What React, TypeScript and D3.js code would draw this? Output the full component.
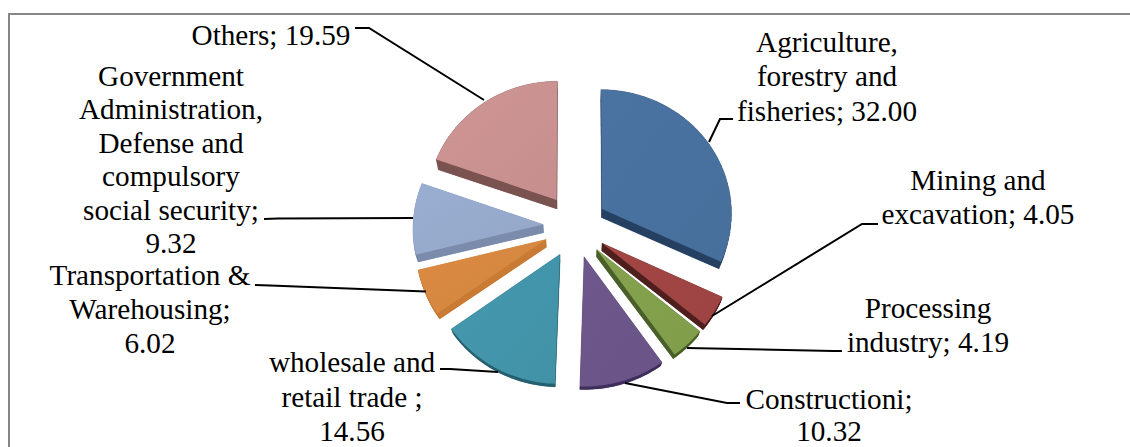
import React from "react";
import * as d3 from "d3";

const categories = [
  "Agriculture, forestry and fisheries",
  "Mining and excavation",
  "Processing industry",
  "Constructioni",
  "wholesale and retail trade",
  "Transportation & Warehousing",
  "Government Administration, Defense and compulsory social security",
  "Others",
];
const values = [32.0, 4.05, 4.19, 10.32, 14.56, 6.02, 9.32, 19.59];
const topColors = ["#48719f", "#a04543", "#82a04c", "#6c5588", "#4395aa", "#d68741", "#97aacd", "#ca9290"];
const sideColors = ["#254061", "#4f1f1e", "#4b5f2a", "#3f2f5c", "#27606f", "#c97a33", "#7a8bab", "#7a5250"];

const labelLines = [
  ["Agriculture,", "forestry and", "fisheries; 32.00"],
  ["Mining and", "excavation; 4.05"],
  ["Processing", "industry; 4.19"],
  ["Constructioni;", "10.32"],
  ["wholesale and", "retail trade ;", "14.56"],
  ["Transportation &", "Warehousing;", "6.02"],
  ["Government", "Administration,", "Defense and", "compulsory", "social security;", "9.32"],
  ["Others; 19.59"],
];
const labelAnchors: [number, number][] = [
  [827, 52], [978, 190], [928, 318], [829, 409], [352, 372], [150, 285], [171, 86], [271, 45],
];
const labelGaps = [34.4, 34, 34, 32, 34.5, 34, 33.4, 0];
const leaders: [number, number][][] = [
  [[733, 119], [720, 119], [709, 142]],
  [[878, 224], [862, 224], [712, 316]],
  [[842, 351], [833, 351], [687, 348]],
  [[740, 403], [727, 403], [625, 383]],
  [[440, 369], [450, 369], [498, 372]],
  [[255, 285], [270, 285.5], [426, 291.5]],
  [[264, 219], [278, 218.5], [413, 218]],
  [[355, 28], [369, 28], [484, 100]],
];

const CX = 575, CY = 226, RX = 130, RY = 124, EXPLODE = 32, PERSP = 0.03;
const FONT = "'Liberation Serif', 'Times New Roman', serif";

// surface projection: world offsets (px) -> screen, nearer points drawn larger
const project = (wx: number, wy: number): [number, number] => {
  const s = 1 + (PERSP * wy) / RY;
  return [CX + wx * s, CY + wy * s];
};
// extrusion: the lower face shrinks toward a vanishing point
const extrude = ([x, y]: [number, number]): [number, number] => [578 + (x - 578) * 0.985, 481 + (y - 481) * 0.968];

const pieGen = d3.pie<number>().sort(null).value((d) => d);
const arcs = pieGen(values);
const line = d3.line<[number, number]>();

export default function App() {
  const slices = arcs.map((a, i) => {
    const mid = (a.startAngle + a.endAngle) / 2;
    const ox = EXPLODE * Math.sin(mid);
    const oy = -EXPLODE * Math.cos(mid);
    const n = 40;
    const rim = d3.range(n + 1).map((k) => {
      const t = a.startAngle + ((a.endAngle - a.startAngle) * k) / n;
      return project(ox + RX * Math.sin(t), oy - RY * Math.cos(t));
    });
    const outline: [number, number][] = [project(ox, oy), ...rim];
    const closed = [...outline, outline[0]];
    const quads = closed.slice(0, -1).map((p, k) => {
      const q = closed[k + 1];
      return line([p, q, extrude(q), extrude(p)]) + "Z";
    });
    return {
      i,
      top: line(outline) + "Z",
      bottom: line(outline.map(extrude)) + "Z",
      quads,
    };
  });

  return (
    <svg width={1130} height={447} style={{ position: "absolute", left: 0, top: 0, background: "#fff" }} fontFamily={FONT}>
      <defs>
        {topColors.map((c, i) => {
          const col = d3.color(c)!;
          return (
            <linearGradient key={i} id={`g${i}`} x1="0" y1="0" x2="1" y2="1">
              <stop offset="0" stopColor={col.brighter(0.06).formatHex()} />
              <stop offset="1" stopColor={col.darker(0.05).formatHex()} />
            </linearGradient>
          );
        })}
      </defs>
      <path d="M9,447V14H1130" fill="none" stroke="#868686" strokeWidth={2} />
      {slices.map((s) => (
        <g key={categories[s.i]}>
          <path d={s.bottom} fill={sideColors[s.i]} />
          {s.quads.map((d, k) => (
            <path key={k} d={d} fill={sideColors[s.i]} stroke={sideColors[s.i]} strokeWidth={0.3} />
          ))}
          <path d={s.top} fill={`url(#g${s.i})`} />
        </g>
      ))}
      {leaders.map((pts, i) => (
        <path key={i} d={line(pts)!} fill="none" stroke="#000" strokeWidth={2} />
      ))}
      {labelLines.map((lines, i) => (
        <text key={i} x={labelAnchors[i][0]} y={labelAnchors[i][1]} fontSize={29.2} textAnchor="middle" fill="#000">
          {lines.map((t, j) => (
            <tspan key={j} x={labelAnchors[i][0]} dy={j === 0 ? 0 : labelGaps[i]}>
              {t}
            </tspan>
          ))}
        </text>
      ))}
    </svg>
  );
}
